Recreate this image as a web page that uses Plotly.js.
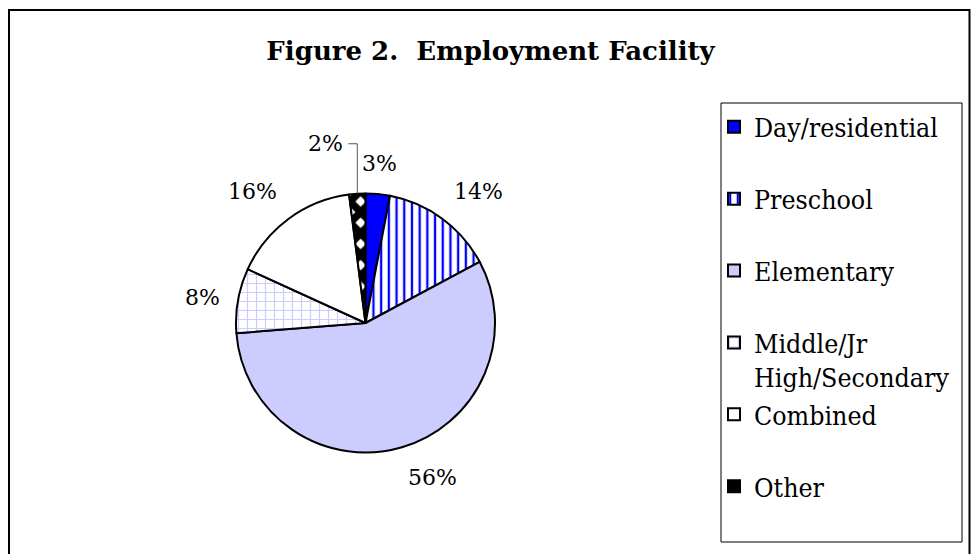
<!DOCTYPE html>
<html><head><meta charset="utf-8">
<script src="https://cdn.plot.ly/plotly-3.0.1.min.js"></script>
<style>html,body{margin:0;padding:0;background:#fff;} #chart{width:972px;height:554px;}</style>
</head><body><div id="chart"></div>
<script>
// ---- data ----
const categories = ['Day/residential', 'Preschool', 'Elementary', 'Middle/Jr High/Secondary', 'Combined', 'Other'];
const legendText = ['Day/residential', 'Preschool', 'Elementary', 'Middle/Jr<br>High/Secondary', 'Combined', 'Other'];
const percents = [3, 14, 56, 8, 16, 2];
const percentLabels = ['3%', '14%', '56%', '8%', '16%', '2%'];

// ---- styles ----
const sliceColors = ['#0000FF', '#FFFFFF', '#CCCCFF', '#FFFFFF', '#FFFFFF', '#FFFFFF'];
const patShapes = ['', '|', '', '+', '', 'x'];
const patFg = ['#0000FF', '#0000FF', '#CCCCFF', '#CCCCFF', '#000000', '#000000'];
const patSize = [8, 7.7, 8, 9, 8, 15];
const patSolid = [0.3, 0.3, 0.3, 0.25, 0.3, 0.75];

const W = 972, H = 554;
const CX = 365.5, CY = 323, R = 129.5;
const FONT = 'DejaVu Serif';
const LEGEND_FONT = '"DejaVu Serif Condensed", "Liberation Serif"';

// legend labels padded to two lines each
const displayLabels = legendText.map(t => t.indexOf('<br>') >= 0 ? t : t + '<br>&nbsp;');

const trace = {
  type: 'pie',
  labels: displayLabels,
  values: percents,
  sort: false,
  direction: 'clockwise',
  rotation: 0,
  textinfo: 'none',
  hoverinfo: 'skip',
  domain: {x: [(CX - R) / W, (CX + R) / W], y: [1 - (CY + R) / H, 1 - (CY - R) / H]},
  marker: {
    colors: sliceColors,
    line: {color: '#000000', width: 2},
    pattern: {shape: patShapes, fgcolor: patFg, bgcolor: sliceColors, size: patSize, solidity: patSolid, fillmode: 'replace'}
  }
};

// label annotations from slice angles
const total = percents.reduce((a, b) => a + b, 0);
const annotations = [];
const shapes = [];
let cum = 0;
const GAP = 16;
percents.forEach((v, i) => {
  const mid = (cum + v / 2) / total * 2 * Math.PI;
  cum += v;
  const ux = Math.sin(mid), uy = -Math.cos(mid);
  const ex = CX + R * ux, ey = CY + R * uy;
  if (i === percents.length - 1) {
    // leader line for the small slice
    const topY = ey - 50, endX = ex - 9;
    shapes.push({type: 'path', xref: 'paper', yref: 'paper',
      path: `M ${ex / W},${1 - ey / H} L ${ex / W},${1 - topY / H} L ${endX / W},${1 - topY / H}`,
      line: {color: '#555555', width: 1}});
    annotations.push({xref: 'paper', yref: 'paper', x: (endX - 3) / W, y: 1 - topY / H,
      xanchor: 'right', yanchor: 'middle', text: percentLabels[i], showarrow: false,
      font: {family: FONT, size: 22, color: '#000'}});
    return;
  }
  const px = CX + (R + GAP) * ux, py = CY + (R + GAP) * uy;
  const xa = Math.abs(ux) < 0.25 ? 'center' : (ux > 0 ? 'left' : 'right');
  const ya = Math.abs(uy) < 0.3 ? 'middle' : (uy < 0 ? 'bottom' : 'top');
  annotations.push({xref: 'paper', yref: 'paper', x: px / W, y: 1 - py / H,
    xanchor: xa, yanchor: ya, text: percentLabels[i], showarrow: false,
    font: {family: FONT, size: 22, color: '#000'}});
});

// outer frame and legend box
shapes.push({type: 'rect', xref: 'paper', yref: 'paper', x0: 9 / W, x1: 969.5 / W, y0: -0.05, y1: 1 - 10 / H,
  line: {color: '#000', width: 2}, fillcolor: 'rgba(0,0,0,0)', layer: 'below'});
shapes.push({type: 'rect', xref: 'paper', yref: 'paper', x0: 721 / W, x1: 962 / W, y0: 1 - 542 / H, y1: 1 - 103 / H,
  line: {color: '#000', width: 1}, fillcolor: 'rgba(0,0,0,0)', layer: 'below'});

const layout = {
  width: W, height: H,
  margin: {l: 0, r: 0, t: 0, b: 0},
  paper_bgcolor: '#FFFFFF',
  font: {family: FONT, color: '#000'},
  title: {text: '<b>Figure 2.&nbsp; Employment Facility</b>', x: 490.5 / W, xref: 'paper', xanchor: 'center',
    y: 1 - 51 / H, yref: 'paper', yanchor: 'middle', font: {family: FONT, size: 26, color: '#000'}},
  showlegend: true,
  legend: {x: 714 / W, xanchor: 'left', y: 1 - 103 / H, yanchor: 'top', bgcolor: 'rgba(0,0,0,0)', borderwidth: 0,
    valign: 'top', font: {family: LEGEND_FONT, size: 26.5, color: '#000'}},
  annotations: annotations,
  shapes: shapes
};

Plotly.newPlot('chart', [trace], layout, {displayModeBar: false, staticPlot: true});
</script>
</body></html>
